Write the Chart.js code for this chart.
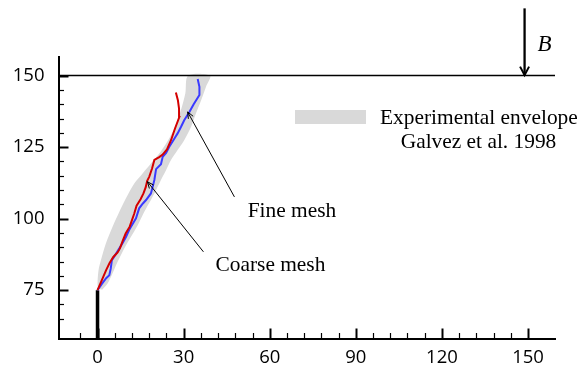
<!DOCTYPE html>
<html><head><meta charset="utf-8">
<script src="https://cdn.jsdelivr.net/npm/chart.js@4.4.0/dist/chart.umd.min.js"></script>
<style>html,body{margin:0;padding:0;background:#fff;} #wrap{width:579px;height:367px;}</style>
</head><body><div id="wrap"><canvas id="c" width="579" height="367"></canvas></div>
<script>
// ---- data ----
const xTickLabels = [0, 30, 60, 90, 120, 150];
const yTickLabels = [75, 100, 125, 150];
const xMinorStep = 6;
const yMinorStep = 5;
const xRange = [-13.6, 159.4];
const yRange = [58.1, 156.5];

const envelopeX = [1.7, 3.5, 5.2, 7.0, 9.3, 11.6, 14.0, 16.3, 18.6, 20.4, 22.1, 23.9, 25.6, 27.9, 30.2, 32.6, 34.3, 36.1, 37.8, 39.2,
                   31.6, 30.6, 29.4, 27.9, 26.2, 23.9, 21.5, 18.6, 15.7, 12.8, 9.9, 7.6, 5.2, 2.9, 1.2, 0.35, 0, 0.35, 1.7];
const envelopeY = [75.2, 77.3, 80.8, 84.9, 89.6, 93.6, 97.7, 102.4, 106.5, 110, 113.5, 117, 120.5, 124, 127.4, 132.1, 136.8, 141.4, 146.1, 150,
                   150, 143.8, 139.1, 134.4, 130.4, 126.3, 122.8, 119.3, 115.8, 112.3, 107.1, 102.4, 97.1, 91.3, 85.5, 82, 77.3, 75.6, 75.2];

const coarseX = [0, 1.5, 3.0, 4.2, 5.5, 7.0, 7.8, 8.8, 9.8, 11.2, 12.0, 12.8, 13.6, 15.0, 16.0, 16.8, 17.3, 18.0, 19.0, 19.8, 21.5, 22.7, 24.2, 25.6, 27.0, 28.5, 28.4, 28.0, 27.3];
const coarseY = [75, 78.5, 82, 84.5, 86.6, 88.2, 89.6, 92.3, 94.8, 97.2, 99.5, 101.8, 104.5, 106.8, 108.8, 111, 113.2, 114.6, 117.5, 120.5, 121.5, 122.4, 124.2, 127.4, 131.5, 135.5, 138.5, 141.4, 144.1];

const fineX = [0, 1.5, 3.0, 4.1, 4.6, 5.0, 6.3, 7.6, 8.8, 9.9, 11.0, 11.6, 13.4, 14.0, 14.5, 15.8, 16.9, 18.6, 19.2, 19.8, 20.4, 22.1, 22.7, 23.9, 25.0, 26.8, 27.9, 29.1, 30.2, 32.0, 33.5, 35.5, 35.5, 34.9];
const fineY = [75, 77.2, 79.2, 80.2, 82.5, 85.5, 87.5, 89.6, 91.6, 93.6, 96, 97.1, 100.1, 102, 103.6, 105.3, 106.5, 108.8, 111.1, 113.5, 117.3, 119.0, 121.6, 123.0, 125.1, 128, 129.8, 132.1, 134.4, 137.3, 140, 143.2, 146.1, 148.8];

const notchX = [0, 0];
const notchY = [58.1, 75];
const refLineX = [xRange[0], xRange[1]];
const refLineY = [150, 150];
const loadArrowX = [148.8, 148.8];
const loadArrowY = [173.5, 150];
const fineArrowX = [47.7, 31.4];
const fineArrowY = [107.6, 137.3];
const coarseArrowX = [36.9, 17.4];
const coarseArrowY = [88.4, 112.9];
const fineLabel = {text: 'Fine mesh', x: 52.3, y: 100.5};
const coarseLabel = {text: 'Coarse mesh', x: 41.1, y: 81.8};
const loadLabel = {text: 'B', x: 153.3, y: 158.5};
const legendLines = ['Experimental envelope', 'Galvez et al. 1998'];

const pts = (xs, ys) => xs.map((v, i) => ({x: v, y: ys[i]}));

const serif = '"Liberation Serif", "Times New Roman", serif';

const decor = {
  id: 'decor',
  afterDatasetsDraw(chart) {
    const {ctx, chartArea: a, scales: {x, y}} = chart;
    ctx.save();
    ctx.strokeStyle = '#000';
    ctx.lineCap = 'butt';
    // inward ticks
    x.ticks.forEach(t => {
      const v = t.value;
      if (Math.abs(v / xMinorStep - Math.round(v / xMinorStep)) > 1e-6) return;
      const major = xTickLabels.includes(v);
      const px = Math.round(x.getPixelForValue(v)) + 0.5;
      ctx.lineWidth = major ? 2 : 1.2;
      ctx.beginPath(); ctx.moveTo(px, a.bottom); ctx.lineTo(px, a.bottom - (major ? 10 : 5.5)); ctx.stroke();
    });
    y.ticks.forEach(t => {
      const v = t.value;
      if (Math.abs(v / yMinorStep - Math.round(v / yMinorStep)) > 1e-6) return;
      const major = yTickLabels.includes(v);
      const py = Math.round(y.getPixelForValue(v)) + 0.5;
      ctx.lineWidth = major ? 2 : 1.2;
      ctx.beginPath(); ctx.moveTo(a.left, py); ctx.lineTo(a.left + (major ? 10 : 5.5), py); ctx.stroke();
    });
    // annotation arrow heads
    const head = (xs, ys, len, ang, lw) => {
      const x0 = x.getPixelForValue(xs[0]), y0 = y.getPixelForValue(ys[0]);
      const x1 = x.getPixelForValue(xs[1]), y1 = y.getPixelForValue(ys[1]);
      const th = Math.atan2(y1 - y0, x1 - x0);
      ctx.lineWidth = lw;
      ctx.beginPath();
      ctx.moveTo(x1 - len * Math.cos(th - ang), y1 - len * Math.sin(th - ang));
      ctx.lineTo(x1, y1);
      ctx.lineTo(x1 - len * Math.cos(th + ang), y1 - len * Math.sin(th + ang));
      ctx.stroke();
    };
    head(fineArrowX, fineArrowY, 7, 0.4, 1);
    head(coarseArrowX, coarseArrowY, 7, 0.4, 1);
    // load arrow B
    const bx = x.getPixelForValue(loadArrowX[0]);
    const bTop = y.getPixelForValue(loadArrowY[0]);
    const bTip = y.getPixelForValue(loadArrowY[1]);
    ctx.lineWidth = 2.3;
    ctx.beginPath(); ctx.moveTo(bx, bTop); ctx.lineTo(bx, bTip - 1); ctx.stroke();
    ctx.lineWidth = 2;
    ctx.beginPath(); ctx.moveTo(bx - 4.5, bTip - 9); ctx.lineTo(bx, bTip - 0.5); ctx.lineTo(bx + 4.5, bTip - 9); ctx.stroke();
    // texts
    ctx.fillStyle = '#000';
    ctx.textBaseline = 'alphabetic';
    ctx.textAlign = 'left';
    ctx.font = 'italic 23px ' + serif;
    ctx.fillText(loadLabel.text, x.getPixelForValue(loadLabel.x), y.getPixelForValue(loadLabel.y));
    ctx.font = '21.4px ' + serif;
    ctx.fillText(fineLabel.text, x.getPixelForValue(fineLabel.x), y.getPixelForValue(fineLabel.y));
    ctx.fillText(coarseLabel.text, x.getPixelForValue(coarseLabel.x), y.getPixelForValue(coarseLabel.y));
    // legend
    ctx.fillStyle = '#d9d9d9';
    ctx.fillRect(295, 110, 71, 14);
    ctx.fillStyle = '#000';
    ctx.fillText(legendLines[0], 380, 124);
    ctx.textAlign = 'center';
    ctx.fillText(legendLines[1], 478.5, 148);
    ctx.restore();
  }
};

new Chart(document.getElementById('c'), {
  type: 'scatter',
  data: {
    datasets: [
      {data: pts(envelopeX, envelopeY), showLine: true, fill: 'shape', backgroundColor: '#d9d9d9', borderWidth: 0, borderColor: 'rgba(0,0,0,0)', pointRadius: 0, tension: 0.3, order: 10},
      {data: pts(refLineX, refLineY), showLine: true, borderColor: '#000', borderWidth: 1.5, pointRadius: 0, order: 6},
      {data: pts(notchX, notchY), showLine: true, borderColor: '#000', borderWidth: 3.5, pointRadius: 0, order: 5},
      {data: pts(fineX, fineY), showLine: true, borderColor: '#3a3aff', borderWidth: 2, pointRadius: 0, order: 3},
      {data: pts(coarseX, coarseY), showLine: true, borderColor: '#d40000', borderWidth: 2, pointRadius: 0, order: 2},
      {data: pts(fineArrowX, fineArrowY), showLine: true, borderColor: '#000', borderWidth: 1, pointRadius: 0, order: 1},
      {data: pts(coarseArrowX, coarseArrowY), showLine: true, borderColor: '#000', borderWidth: 1, pointRadius: 0, order: 1}
    ]
  },
  options: {
    responsive: false, animation: false, devicePixelRatio: 1,
    layout: {padding: {top: 57, right: 24, left: 0, bottom: 0}},
    plugins: {legend: {display: false}, tooltip: {enabled: false}},
    scales: {
      x: {type: 'linear', min: xRange[0], max: xRange[1],
        grid: {display: false, drawTicks: false},
        border: {display: true, color: '#000', width: 2},
        ticks: {stepSize: xMinorStep, autoSkip: false, maxRotation: 0, padding: 8, color: '#000',
          font: {family: '"Open Sans", sans-serif', size: 18.5},
          callback: v => xTickLabels.includes(v) ? String(v) : ''},
        afterFit(s) { s.height = 28.5; }
      },
      y: {type: 'linear', min: yRange[0], max: yRange[1],
        grid: {display: false, drawTicks: false},
        border: {display: true, color: '#000', width: 2},
        ticks: {stepSize: yMinorStep, autoSkip: false, padding: 14, color: '#000',
          font: {family: '"Open Sans", sans-serif', size: 18.5},
          callback: v => yTickLabels.includes(v) ? String(v) : ''},
        afterFit(s) { s.width = 58.5; }
      }
    }
  },
  plugins: [decor]
});
</script></body></html>
